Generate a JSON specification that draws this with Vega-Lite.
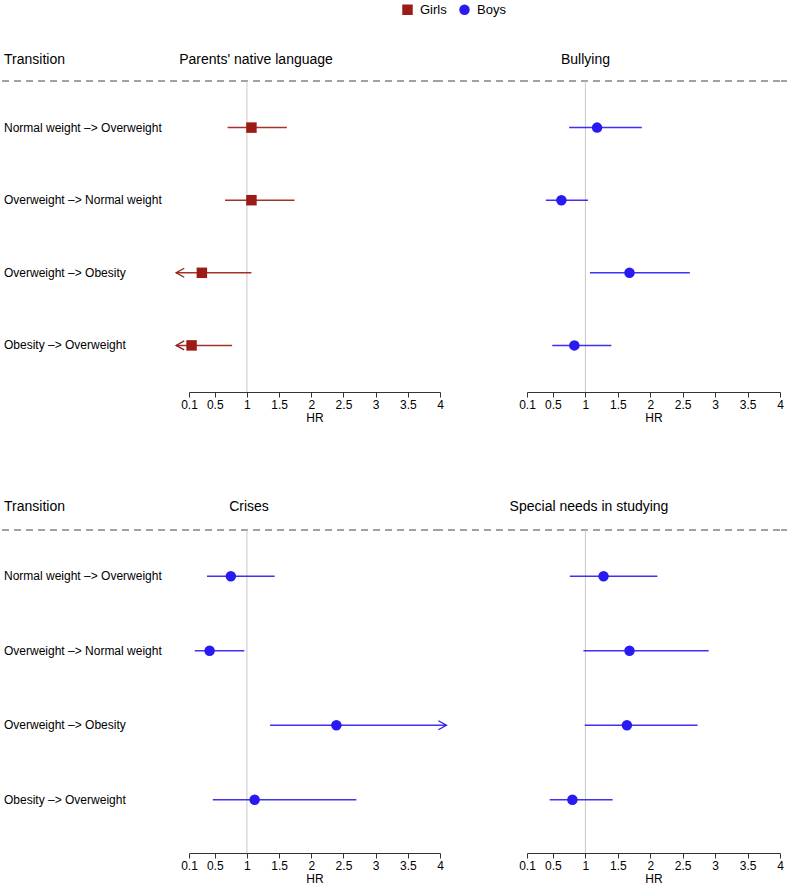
{
  "$schema": "https://vega.github.io/schema/vega-lite/v6.json",
  "padding": {"left": 0, "top": 3, "right": 0, "bottom": 0},
  "autosize": {"type": "pad"},
  "spacing": 76,
  "config": {
    "font": "Liberation Sans",
    "view": {"stroke": null},
    "title": {"fontSize": 14, "fontWeight": "normal", "color": "#000000", "baseline": "bottom", "offset": 14, "anchor": "middle", "frame": "group"},
    "axis": {"labelFontSize": 12, "labelColor": "#000000", "tickColor": "#333333", "tickSize": 5, "tickWidth": 1, "domain": true, "domainColor": "#333333", "domainWidth": 1, "labelPadding": 2, "titleFontSize": 12, "titleFontWeight": "normal", "titleColor": "#000000", "titlePadding": 2, "grid": false, "labelOverlap": false, "labelFlush": false},
    "legend": {"labelFontSize": 13, "labelColor": "#000000"}
  },
  "datasets": {
    "rows": [
      {"factor": "Parents' native language", "transition": "Normal weight –> Overweight", "sex": "Girls", "hr": 1.07, "lo": 0.70, "hi": 1.62, "lo_arrow": false, "hi_arrow": false},
      {"factor": "Parents' native language", "transition": "Overweight –> Normal weight", "sex": "Girls", "hr": 1.07, "lo": 0.66, "hi": 1.74, "lo_arrow": false, "hi_arrow": false},
      {"factor": "Parents' native language", "transition": "Overweight –> Obesity", "sex": "Girls", "hr": 0.30, "lo": -0.10, "hi": 1.07, "lo_arrow": true, "hi_arrow": false},
      {"factor": "Parents' native language", "transition": "Obesity –> Overweight", "sex": "Girls", "hr": 0.14, "lo": -0.10, "hi": 0.77, "lo_arrow": true, "hi_arrow": false},
      {"factor": "Bullying", "transition": "Normal weight –> Overweight", "sex": "Boys", "hr": 1.18, "lo": 0.75, "hi": 1.87, "lo_arrow": false, "hi_arrow": false},
      {"factor": "Bullying", "transition": "Overweight –> Normal weight", "sex": "Boys", "hr": 0.63, "lo": 0.39, "hi": 1.04, "lo_arrow": false, "hi_arrow": false},
      {"factor": "Bullying", "transition": "Overweight –> Obesity", "sex": "Boys", "hr": 1.68, "lo": 1.07, "hi": 2.61, "lo_arrow": false, "hi_arrow": false},
      {"factor": "Bullying", "transition": "Obesity –> Overweight", "sex": "Boys", "hr": 0.83, "lo": 0.49, "hi": 1.40, "lo_arrow": false, "hi_arrow": false},
      {"factor": "Crises", "transition": "Normal weight –> Overweight", "sex": "Boys", "hr": 0.75, "lo": 0.38, "hi": 1.43, "lo_arrow": false, "hi_arrow": false},
      {"factor": "Crises", "transition": "Overweight –> Normal weight", "sex": "Boys", "hr": 0.42, "lo": 0.19, "hi": 0.96, "lo_arrow": false, "hi_arrow": false},
      {"factor": "Crises", "transition": "Overweight –> Obesity", "sex": "Boys", "hr": 2.39, "lo": 1.36, "hi": 4.10, "lo_arrow": false, "hi_arrow": true},
      {"factor": "Crises", "transition": "Obesity –> Overweight", "sex": "Boys", "hr": 1.12, "lo": 0.47, "hi": 2.70, "lo_arrow": false, "hi_arrow": false},
      {"factor": "Special needs in studying", "transition": "Normal weight –> Overweight", "sex": "Boys", "hr": 1.28, "lo": 0.76, "hi": 2.11, "lo_arrow": false, "hi_arrow": false},
      {"factor": "Special needs in studying", "transition": "Overweight –> Normal weight", "sex": "Boys", "hr": 1.68, "lo": 0.97, "hi": 2.90, "lo_arrow": false, "hi_arrow": false},
      {"factor": "Special needs in studying", "transition": "Overweight –> Obesity", "sex": "Boys", "hr": 1.64, "lo": 0.99, "hi": 2.73, "lo_arrow": false, "hi_arrow": false},
      {"factor": "Special needs in studying", "transition": "Obesity –> Overweight", "sex": "Boys", "hr": 0.80, "lo": 0.45, "hi": 1.42, "lo_arrow": false, "hi_arrow": false}
    ]
  },
  "vconcat": [
    {
      "spacing": 0,
      "bounds": "flush",
      "hconcat": [
        {
          "width": 188, "height": 311,
          "title": {"text": "Transition", "anchor": "start", "dx": 3},
          "data": {"name": "rows"},
          "transform": [{"filter": {"field": "factor", "equal": "Parents' native language"}}],
          "layer": [
            {"data": {"values": [{}]}, "mark": {"type": "rule", "strokeDash": [7, 5], "color": "#444444", "strokeWidth": 1}, "encoding": {"y": {"value": 0}}},
            {"mark": {"type": "text", "align": "left", "baseline": "middle", "dx": 3, "fontSize": 12, "color": "#000000"},
             "encoding": {"x": {"value": 0}, "y": {"field": "transition", "type": "nominal", "axis": null, "scale": {"type": "point", "domain": ["Normal weight –> Overweight", "Overweight –> Normal weight", "Overweight –> Obesity", "Obesity –> Overweight"], "padding": 0.642, "align": 0.5}}, "text": {"field": "transition"}}}
          ]
        },
        {
          "width": 251, "height": 311,
          "title": {"text": "Parents' native language", "dx": -58.5},
          "data": {"name": "rows"},
          "transform": [{"filter": {"field": "factor", "equal": "Parents' native language"}}],
          "layer": [
            {"data": {"values": [{}]}, "mark": {"type": "rule", "strokeDash": [7, 5], "color": "#444444", "strokeWidth": 1}, "encoding": {"y": {"value": 0}}},
            {"data": {"values": [{}]}, "mark": {"type": "rule", "color": "#c8c8c8", "strokeWidth": 1},
             "encoding": {"x": {"datum": 1, "type": "quantitative", "title": "HR", "scale": {"domain": [0.1, 4], "nice": false, "zero": false}, "axis": {"values": [0.1, 0.5, 1, 1.5, 2, 2.5, 3, 3.5, 4], "labelExpr": "datum.value + ''"}}}},
            {"mark": {"type": "rule", "strokeWidth": 1.5, "strokeOpacity": 0.9},
             "encoding": {
               "x": {"field": "lo", "type": "quantitative", "title": "HR", "scale": {"domain": [0.1, 4], "nice": false, "zero": false}, "axis": {"values": [0.1, 0.5, 1, 1.5, 2, 2.5, 3, 3.5, 4], "labelExpr": "datum.value + ''"}},
               "x2": {"field": "hi"},
               "y": {"field": "transition", "type": "nominal", "axis": null, "scale": {"type": "point", "domain": ["Normal weight –> Overweight", "Overweight –> Normal weight", "Overweight –> Obesity", "Obesity –> Overweight"], "padding": 0.642, "align": 0.5}},
               "stroke": {"field": "sex", "type": "nominal", "legend": null, "scale": {"domain": ["Boys", "Girls"], "range": ["#2a1af2", "#9b1b16"]}}
             }},
            {"transform": [{"filter": "datum.lo_arrow"}],
             "mark": {"type": "point", "shape": "M1.8,-1L0,0L1.8,1", "filled": false, "size": 81, "strokeWidth": 1.3, "opacity": 1},
             "encoding": {
               "x": {"field": "lo", "type": "quantitative", "title": "HR", "scale": {"domain": [0.1, 4], "nice": false, "zero": false}, "axis": {"values": [0.1, 0.5, 1, 1.5, 2, 2.5, 3, 3.5, 4], "labelExpr": "datum.value + ''"}},
               "y": {"field": "transition", "type": "nominal", "axis": null, "scale": {"type": "point", "domain": ["Normal weight –> Overweight", "Overweight –> Normal weight", "Overweight –> Obesity", "Obesity –> Overweight"], "padding": 0.642, "align": 0.5}},
               "stroke": {"field": "sex", "type": "nominal", "legend": null, "scale": {"domain": ["Boys", "Girls"], "range": ["#2a1af2", "#9b1b16"]}}
             }},
            {"mark": {"type": "point", "filled": true, "size": 110, "opacity": 1},
             "encoding": {
               "x": {"field": "hr", "type": "quantitative", "title": "HR", "scale": {"domain": [0.1, 4], "nice": false, "zero": false}, "axis": {"values": [0.1, 0.5, 1, 1.5, 2, 2.5, 3, 3.5, 4], "labelExpr": "datum.value + ''"}},
               "y": {"field": "transition", "type": "nominal", "axis": null, "scale": {"type": "point", "domain": ["Normal weight –> Overweight", "Overweight –> Normal weight", "Overweight –> Obesity", "Obesity –> Overweight"], "padding": 0.642, "align": 0.5}},
               "color": {"field": "sex", "type": "nominal", "scale": {"domain": ["Girls", "Boys"], "range": ["#9b1b16", "#2a1af2"]}, "legend": {"orient": "none", "legendX": 400, "legendY": -78, "direction": "horizontal", "title": null, "symbolSize": 110, "labelOffset": 6, "columnPadding": 11, "padding": 0, "symbolStrokeWidth": 0}},
               "shape": {"field": "sex", "type": "nominal", "scale": {"domain": ["Girls", "Boys"], "range": ["square", "circle"]}, "legend": {"orient": "none", "legendX": 400, "legendY": -78, "direction": "horizontal", "title": null, "symbolSize": 110, "labelOffset": 6, "columnPadding": 11, "padding": 0, "symbolStrokeWidth": 0}}
             }}
          ]
        },
        {
          "width": 87, "height": 311,
          "data": {"values": [{}]},
          "mark": {"type": "rule", "strokeDash": [7, 5], "color": "#444444", "strokeWidth": 1},
          "encoding": {"y": {"value": 0}}
        },
        {
          "width": 253, "height": 311,
          "title": {"text": "Bullying", "dx": -68},
          "data": {"name": "rows"},
          "transform": [{"filter": {"field": "factor", "equal": "Bullying"}}],
          "layer": [
            {"data": {"values": [{}]}, "mark": {"type": "rule", "strokeDash": [7, 5], "color": "#444444", "strokeWidth": 1}, "encoding": {"y": {"value": 0}}},
            {"data": {"values": [{}]}, "mark": {"type": "rule", "color": "#c8c8c8", "strokeWidth": 1},
             "encoding": {"x": {"datum": 1, "type": "quantitative", "title": "HR", "scale": {"domain": [0.1, 4], "nice": false, "zero": false}, "axis": {"values": [0.1, 0.5, 1, 1.5, 2, 2.5, 3, 3.5, 4], "labelExpr": "datum.value + ''"}}}},
            {"mark": {"type": "rule", "strokeWidth": 1.5, "strokeOpacity": 0.9},
             "encoding": {
               "x": {"field": "lo", "type": "quantitative", "title": "HR", "scale": {"domain": [0.1, 4], "nice": false, "zero": false}, "axis": {"values": [0.1, 0.5, 1, 1.5, 2, 2.5, 3, 3.5, 4], "labelExpr": "datum.value + ''"}},
               "x2": {"field": "hi"},
               "y": {"field": "transition", "type": "nominal", "axis": null, "scale": {"type": "point", "domain": ["Normal weight –> Overweight", "Overweight –> Normal weight", "Overweight –> Obesity", "Obesity –> Overweight"], "padding": 0.642, "align": 0.5}},
               "stroke": {"field": "sex", "type": "nominal", "legend": null, "scale": {"domain": ["Boys", "Girls"], "range": ["#2a1af2", "#9b1b16"]}}
             }},
            {"mark": {"type": "point", "filled": true, "size": 110, "opacity": 1},
             "encoding": {
               "x": {"field": "hr", "type": "quantitative", "title": "HR", "scale": {"domain": [0.1, 4], "nice": false, "zero": false}, "axis": {"values": [0.1, 0.5, 1, 1.5, 2, 2.5, 3, 3.5, 4], "labelExpr": "datum.value + ''"}},
               "y": {"field": "transition", "type": "nominal", "axis": null, "scale": {"type": "point", "domain": ["Normal weight –> Overweight", "Overweight –> Normal weight", "Overweight –> Obesity", "Obesity –> Overweight"], "padding": 0.642, "align": 0.5}},
               "color": {"field": "sex", "type": "nominal", "scale": {"domain": ["Girls", "Boys"], "range": ["#9b1b16", "#2a1af2"]}, "legend": {"orient": "none", "legendX": 400, "legendY": -78, "direction": "horizontal", "title": null, "symbolSize": 110, "labelOffset": 6, "columnPadding": 11, "padding": 0, "symbolStrokeWidth": 0}},
               "shape": {"field": "sex", "type": "nominal", "scale": {"domain": ["Girls", "Boys"], "range": ["square", "circle"]}, "legend": {"orient": "none", "legendX": 400, "legendY": -78, "direction": "horizontal", "title": null, "symbolSize": 110, "labelOffset": 6, "columnPadding": 11, "padding": 0, "symbolStrokeWidth": 0}}
             }}
          ]
        },
        {
          "width": 8, "height": 311,
          "data": {"values": [{}]},
          "mark": {"type": "rule", "strokeDash": [7, 5], "color": "#444444", "strokeWidth": 1},
          "encoding": {"y": {"value": 0}}
        }
      ]
    },
    {
      "spacing": 0,
      "bounds": "flush",
      "hconcat": [
        {
          "width": 188, "height": 323,
          "title": {"text": "Transition", "anchor": "start", "dx": 3, "offset": 15.6},
          "data": {"name": "rows"},
          "transform": [{"filter": {"field": "factor", "equal": "Crises"}}],
          "layer": [
            {"data": {"values": [{}]}, "mark": {"type": "rule", "strokeDash": [7, 5], "color": "#444444", "strokeWidth": 1}, "encoding": {"y": {"value": 0}}},
            {"mark": {"type": "text", "align": "left", "baseline": "middle", "dx": 3, "fontSize": 12, "color": "#000000"},
             "encoding": {"x": {"value": 0}, "y": {"field": "transition", "type": "nominal", "axis": null, "scale": {"type": "point", "domain": ["Normal weight –> Overweight", "Overweight –> Normal weight", "Overweight –> Obesity", "Obesity –> Overweight"], "padding": 0.6686, "align": 0.465}}, "text": {"field": "transition"}}}
          ]
        },
        {
          "width": 251, "height": 323,
          "title": {"text": "Crises", "dx": -65.5, "offset": 15.6},
          "data": {"name": "rows"},
          "transform": [{"filter": {"field": "factor", "equal": "Crises"}}],
          "layer": [
            {"data": {"values": [{}]}, "mark": {"type": "rule", "strokeDash": [7, 5], "color": "#444444", "strokeWidth": 1}, "encoding": {"y": {"value": 0}}},
            {"data": {"values": [{}]}, "mark": {"type": "rule", "color": "#c8c8c8", "strokeWidth": 1},
             "encoding": {"x": {"datum": 1, "type": "quantitative", "title": "HR", "scale": {"domain": [0.1, 4], "nice": false, "zero": false}, "axis": {"values": [0.1, 0.5, 1, 1.5, 2, 2.5, 3, 3.5, 4], "labelExpr": "datum.value + ''"}}}},
            {"mark": {"type": "rule", "strokeWidth": 1.5, "strokeOpacity": 0.9},
             "encoding": {
               "x": {"field": "lo", "type": "quantitative", "title": "HR", "scale": {"domain": [0.1, 4], "nice": false, "zero": false}, "axis": {"values": [0.1, 0.5, 1, 1.5, 2, 2.5, 3, 3.5, 4], "labelExpr": "datum.value + ''"}},
               "x2": {"field": "hi"},
               "y": {"field": "transition", "type": "nominal", "axis": null, "scale": {"type": "point", "domain": ["Normal weight –> Overweight", "Overweight –> Normal weight", "Overweight –> Obesity", "Obesity –> Overweight"], "padding": 0.6686, "align": 0.465}},
               "stroke": {"field": "sex", "type": "nominal", "legend": null, "scale": {"domain": ["Boys", "Girls"], "range": ["#2a1af2", "#9b1b16"]}}
             }},
            {"transform": [{"filter": "datum.hi_arrow"}],
             "mark": {"type": "point", "shape": "M-1.8,-1L0,0L-1.8,1", "filled": false, "size": 81, "strokeWidth": 1.3, "opacity": 1},
             "encoding": {
               "x": {"field": "hi", "type": "quantitative", "title": "HR", "scale": {"domain": [0.1, 4], "nice": false, "zero": false}, "axis": {"values": [0.1, 0.5, 1, 1.5, 2, 2.5, 3, 3.5, 4], "labelExpr": "datum.value + ''"}},
               "y": {"field": "transition", "type": "nominal", "axis": null, "scale": {"type": "point", "domain": ["Normal weight –> Overweight", "Overweight –> Normal weight", "Overweight –> Obesity", "Obesity –> Overweight"], "padding": 0.6686, "align": 0.465}},
               "stroke": {"field": "sex", "type": "nominal", "legend": null, "scale": {"domain": ["Boys", "Girls"], "range": ["#2a1af2", "#9b1b16"]}}
             }},
            {"mark": {"type": "point", "filled": true, "size": 110, "opacity": 1},
             "encoding": {
               "x": {"field": "hr", "type": "quantitative", "title": "HR", "scale": {"domain": [0.1, 4], "nice": false, "zero": false}, "axis": {"values": [0.1, 0.5, 1, 1.5, 2, 2.5, 3, 3.5, 4], "labelExpr": "datum.value + ''"}},
               "y": {"field": "transition", "type": "nominal", "axis": null, "scale": {"type": "point", "domain": ["Normal weight –> Overweight", "Overweight –> Normal weight", "Overweight –> Obesity", "Obesity –> Overweight"], "padding": 0.6686, "align": 0.465}},
               "color": {"field": "sex", "type": "nominal", "scale": {"domain": ["Girls", "Boys"], "range": ["#9b1b16", "#2a1af2"]}, "legend": {"orient": "none", "legendX": 400, "legendY": -78, "direction": "horizontal", "title": null, "symbolSize": 110, "labelOffset": 6, "columnPadding": 11, "padding": 0, "symbolStrokeWidth": 0}},
               "shape": {"field": "sex", "type": "nominal", "scale": {"domain": ["Girls", "Boys"], "range": ["square", "circle"]}, "legend": {"orient": "none", "legendX": 400, "legendY": -78, "direction": "horizontal", "title": null, "symbolSize": 110, "labelOffset": 6, "columnPadding": 11, "padding": 0, "symbolStrokeWidth": 0}}
             }}
          ]
        },
        {
          "width": 87, "height": 323,
          "data": {"values": [{}]},
          "mark": {"type": "rule", "strokeDash": [7, 5], "color": "#444444", "strokeWidth": 1},
          "encoding": {"y": {"value": 0}}
        },
        {
          "width": 253, "height": 323,
          "title": {"text": "Special needs in studying", "dx": -64.5, "offset": 15.6},
          "data": {"name": "rows"},
          "transform": [{"filter": {"field": "factor", "equal": "Special needs in studying"}}],
          "layer": [
            {"data": {"values": [{}]}, "mark": {"type": "rule", "strokeDash": [7, 5], "color": "#444444", "strokeWidth": 1}, "encoding": {"y": {"value": 0}}},
            {"data": {"values": [{}]}, "mark": {"type": "rule", "color": "#c8c8c8", "strokeWidth": 1},
             "encoding": {"x": {"datum": 1, "type": "quantitative", "title": "HR", "scale": {"domain": [0.1, 4], "nice": false, "zero": false}, "axis": {"values": [0.1, 0.5, 1, 1.5, 2, 2.5, 3, 3.5, 4], "labelExpr": "datum.value + ''"}}}},
            {"mark": {"type": "rule", "strokeWidth": 1.5, "strokeOpacity": 0.9},
             "encoding": {
               "x": {"field": "lo", "type": "quantitative", "title": "HR", "scale": {"domain": [0.1, 4], "nice": false, "zero": false}, "axis": {"values": [0.1, 0.5, 1, 1.5, 2, 2.5, 3, 3.5, 4], "labelExpr": "datum.value + ''"}},
               "x2": {"field": "hi"},
               "y": {"field": "transition", "type": "nominal", "axis": null, "scale": {"type": "point", "domain": ["Normal weight –> Overweight", "Overweight –> Normal weight", "Overweight –> Obesity", "Obesity –> Overweight"], "padding": 0.6686, "align": 0.465}},
               "stroke": {"field": "sex", "type": "nominal", "legend": null, "scale": {"domain": ["Boys", "Girls"], "range": ["#2a1af2", "#9b1b16"]}}
             }},
            {"mark": {"type": "point", "filled": true, "size": 110, "opacity": 1},
             "encoding": {
               "x": {"field": "hr", "type": "quantitative", "title": "HR", "scale": {"domain": [0.1, 4], "nice": false, "zero": false}, "axis": {"values": [0.1, 0.5, 1, 1.5, 2, 2.5, 3, 3.5, 4], "labelExpr": "datum.value + ''"}},
               "y": {"field": "transition", "type": "nominal", "axis": null, "scale": {"type": "point", "domain": ["Normal weight –> Overweight", "Overweight –> Normal weight", "Overweight –> Obesity", "Obesity –> Overweight"], "padding": 0.6686, "align": 0.465}},
               "color": {"field": "sex", "type": "nominal", "scale": {"domain": ["Girls", "Boys"], "range": ["#9b1b16", "#2a1af2"]}, "legend": {"orient": "none", "legendX": 400, "legendY": -78, "direction": "horizontal", "title": null, "symbolSize": 110, "labelOffset": 6, "columnPadding": 11, "padding": 0, "symbolStrokeWidth": 0}},
               "shape": {"field": "sex", "type": "nominal", "scale": {"domain": ["Girls", "Boys"], "range": ["square", "circle"]}, "legend": {"orient": "none", "legendX": 400, "legendY": -78, "direction": "horizontal", "title": null, "symbolSize": 110, "labelOffset": 6, "columnPadding": 11, "padding": 0, "symbolStrokeWidth": 0}}
             }}
          ]
        },
        {
          "width": 8, "height": 323,
          "data": {"values": [{}]},
          "mark": {"type": "rule", "strokeDash": [7, 5], "color": "#444444", "strokeWidth": 1},
          "encoding": {"y": {"value": 0}}
        }
      ]
    }
  ]
}
